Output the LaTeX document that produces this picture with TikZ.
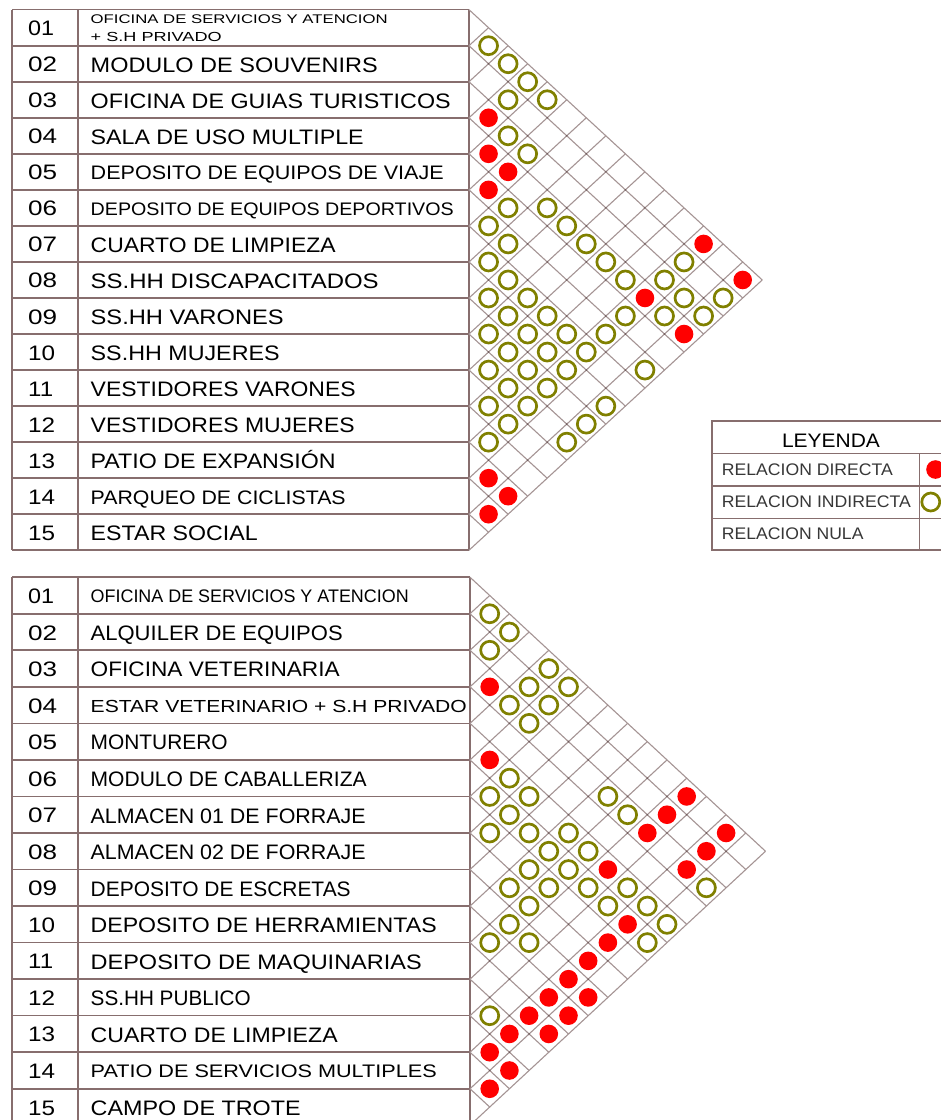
\documentclass[tikz,border=0pt]{standalone}
\usepackage{fontspec}
\setmainfont{Liberation Sans}
\definecolor{tabcol}{RGB}{135,110,110}
\definecolor{gridcol}{RGB}{165,148,148}
\definecolor{vertcol}{RGB}{110,90,90}
\definecolor{olivecol}{RGB}{128,128,0}
\definecolor{dotred}{RGB}{255,0,0}
\definecolor{legtext}{RGB}{55,55,55}
\newlength\fitlen
\newcommand\fitw[2]{\settowidth\fitlen{#2}\pgfmathsetmacro\fitsx{#1/\fitlen}\scalebox{\fitsx}[1]{#2}}
\newcommand\capfont[1]{\pgfmathsetmacro\fsz{#1/0.716}\fontsize{\fsz}{\fsz}\selectfont}
% x0, T, w, hh, reds, greens
\newcommand\relmat[6]{%
  \foreach \k in {0,...,15}{%
    \draw[gridline] (#1,{#2+2*\k*#4}) -- ++({(15-\k)*#3},{(15-\k)*#4});
    \draw[gridline] (#1,{#2+2*\k*#4}) -- ++({\k*#3},{-\k*#4});
  }
  \foreach \a in {1,...,14}{%
    \foreach \b in {1,...,29}{%
      \pgfmathtruncatemacro\ok{and(and(\b>\a,\b<30-\a),iseven(\a+\b))}
      \ifnum\ok=1 \fill[vertcol] ({#1+\a*#3},{#2+\b*#4}) circle[radius=0.9pt];\fi
    }
  }
  \foreach \i/\j in {#5}{%
    \fill[reddot] ({#1+(\j-\i)*#3},{#2+(\i+\j-1)*#4}) circle[radius=9.3pt];
  }
  \foreach \i/\j in {#6}{%
    \draw[greenring] ({#1+(\j-\i)*#3},{#2+(\i+\j-1)*#4}) circle[radius=9pt];
  }
}
\begin{document}
\begin{tikzpicture}[x=1pt,y=-1pt,
  tabline/.style={draw=tabcol,line width=1.6pt},
  gridline/.style={draw=gridcol,line width=1.1pt},
  reddot/.style={fill=dotred},
  greenring/.style={draw=olivecol,line width=2.7pt,fill=white},
  nametext/.style={anchor=base west,inner sep=0pt,text=black},
  legtxt/.style={anchor=base west,inner sep=0pt,text=legtext}]
\useasboundingbox (0,0) rectangle (941,1120);
\fill[white] (0,0) rectangle (941,1120);

% ---------------- TOP TABLE ----------------
\foreach \k in {0,...,15}{\draw[tabline] (12,{9.66+\k*36.04}) -- (469,{9.66+\k*36.04});}
\draw[tabline] (12,9.66) -- (12,550.26);
\draw[tabline] (78,9.66) -- (78,550.26);
\draw[tabline] (469,9.66) -- (469,550.26);

\foreach \r/\w/\n in {1/26/01,2/29/02,3/29/03,4/29/04,5/29/05,6/29/06,7/29/07,8/29/08,9/29/09,10/27/10,11/25/11,12/27/12,13/27/13,14/27/14,15/27/15}{%
  \pgfmathsetmacro\yy{9.66+(\r-0.5)*36.04+8}
  \node[nametext] (tn\r) at (28,\yy) {\capfont{15}\fitw{\w}{\n}};
}
\node[nametext] (t1a) at (90.5,23.3) {\capfont{9}\fitw{297}{OFICINA DE SERVICIOS Y ATENCION}};
\node[nametext] (t1b) at (90.5,41.3) {\capfont{9.4}\fitw{131}{+ S.H PRIVADO}};
\foreach \r/\c/\w/\txt in {
  2/15/287/MODULO DE SOUVENIRS,
  3/15/360/OFICINA DE GUIAS TURISTICOS,
  4/15/273/SALA DE USO MULTIPLE,
  5/14/353/DEPOSITO DE EQUIPOS DE VIAJE,
  6/13/363/DEPOSITO DE EQUIPOS DEPORTIVOS,
  7/15/245/CUARTO DE LIMPIEZA,
  8/15/288/SS.HH DISCAPACITADOS,
  9/15/193/SS.HH VARONES,
  10/15/189/SS.HH MUJERES,
  11/15/265/VESTIDORES VARONES,
  12/15/264/VESTIDORES MUJERES,
  13/15/245/PATIO DE EXPANSIÓN,
  14/14/255/PARQUEO DE CICLISTAS,
  15/15/167/ESTAR SOCIAL}{%
  \pgfmathsetmacro\yy{9.66+(\r-0.5)*36.04+\c/2+0.8}
  \node[nametext] (t\r) at (90.5,\yy) {\capfont{\c}\fitw{\w}{\txt}};
}

\relmat{469}{9.66}{19.55}{18.02}%
{3/4,4/5,4/6,5/6,1/13,1/15,4/13,4/15,13/14,13/15,14/15}%
{1/2,1/3,1/4,2/4,1/5,3/5,3/6,5/7,4/8,6/7,4/9,6/8,4/10,7/8,4/11,2/13,7/9,4/12,3/13,8/9,7/10,3/14,2/15,8/10,7/11,5/13,4/14,3/15,9/10,8/11,7/12,6/13,9/11,8/12,7/13,10/11,9/12,8/13,6/15,10/12,9/13,11/12,10/13,8/15,11/13,9/15,12/13,10/15}

% ---------------- BOTTOM TABLE ----------------
\foreach \k in {0,...,15}{\draw[tabline] (12,{577.2+\k*36.54}) -- (470,{577.2+\k*36.54});}
\draw[tabline] (12,577.2) -- (12,1125.3);
\draw[tabline] (78,577.2) -- (78,1125.3);
\draw[tabline] (470,577.2) -- (470,1125.3);

\foreach \r/\w/\n in {1/26/01,2/29/02,3/29/03,4/29/04,5/29/05,6/29/06,7/29/07,8/29/08,9/29/09,10/27/10,11/25/11,12/27/12,13/27/13,14/27/14,15/27/15}{%
  \pgfmathsetmacro\yy{577.2+(\r-0.5)*36.54+8}
  \node[nametext] (bn\r) at (28,\yy) {\capfont{15}\fitw{\w}{\n}};
}
\foreach \r/\c/\w/\txt in {
  1/13/318/OFICINA DE SERVICIOS Y ATENCION,
  2/15/252/ALQUILER DE EQUIPOS,
  3/15/249/OFICINA VETERINARIA,
  4/12.5/376/ESTAR VETERINARIO + S.H PRIVADO,
  5/15/137/MONTURERO,
  6/15/276/MODULO DE CABALLERIZA,
  7/15/275/ALMACEN 01  DE FORRAJE,
  8/15/275/ALMACEN 02 DE FORRAJE,
  9/15/260/DEPOSITO DE ESCRETAS,
  10/15/346/DEPOSITO DE HERRAMIENTAS,
  11/15/331/DEPOSITO DE MAQUINARIAS,
  12/15/160/SS.HH PUBLICO,
  13/15/247/CUARTO DE LIMPIEZA,
  14/13/346/PATIO DE SERVICIOS MULTIPLES,
  15/15/210/CAMPO DE TROTE}{%
  \pgfmathsetmacro\yy{577.2+(\r-0.5)*36.54+\c/2+0.8}
  \node[nametext] (b\r) at (90.5,\yy) {\capfont{\c}\fitw{\w}{\txt}};
}

\relmat{470}{577.2}{19.7}{18.27}%
{3/4,5/6,1/12,2/12,3/12,1/14,2/14,5/12,3/14,6/14,7/14,8/14,9/14,10/14,9/15,11/14,10/15,12/14,11/15,13/14,13/15,14/15}%
{1/2,1/3,2/3,1/5,2/5,1/6,3/5,2/6,3/6,5/7,6/7,5/8,3/10,6/8,3/11,7/8,6/9,5/10,6/10,5/11,7/10,6/11,8/10,7/11,6/12,5/13,3/15,8/11,6/13,5/14,9/11,5/15,10/11,9/12,6/15,12/13}

% ---------------- LEGEND ----------------
\draw[tabline] (711.7,421) rectangle (952,550);
\draw[tabline] (711.7,453.3) -- (952,453.3);
\draw[tabline] (711.7,485.7) -- (952,485.7);
\draw[tabline] (711.7,518.3) -- (952,518.3);
\draw[tabline] (919.3,453.3) -- (919.3,550);
\node[anchor=base,inner sep=0pt] (leg) at (831,447.3) {\capfont{14}\fitw{98}{LEYENDA}};
\node[legtxt] (l1) at (721.7,475.7) {\capfont{12}\fitw{171}{RELACION DIRECTA}};
\node[legtxt] (l2) at (721.7,507.3) {\capfont{12}\fitw{189}{RELACION INDIRECTA}};
\node[legtxt] (l3) at (721.7,539.3) {\capfont{12}\fitw{141.6}{RELACION NULA}};
\fill[reddot] (935.5,469.5) circle[radius=9.3pt];
\draw[greenring] (930.8,502) circle[radius=9pt];
\end{tikzpicture}
\end{document}
